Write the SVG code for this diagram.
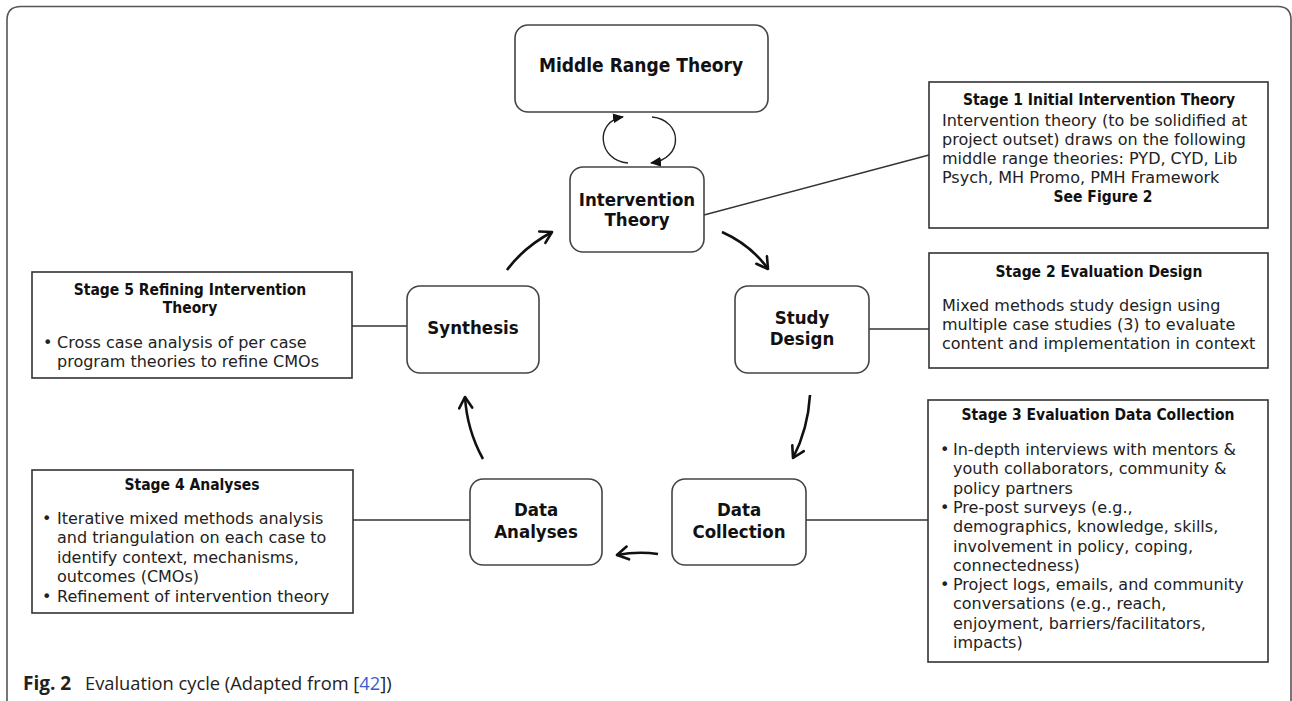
<svg xmlns="http://www.w3.org/2000/svg" width="1292" height="701" viewBox="0 0 1292 701">
<style>
.frame{fill:none;stroke:#555;stroke-width:1.6}
.node{fill:#fff;stroke:#444;stroke-width:1.6}
.box{fill:#fff;stroke:#333;stroke-width:1.6}
.lbl{font-family:'DejaVu Sans Condensed','DejaVu Sans',sans-serif;font-stretch:condensed;font-weight:bold;font-size:18.5px;fill:#111;text-anchor:middle}
.ttl{font-family:'DejaVu Sans Condensed','DejaVu Sans',sans-serif;font-stretch:condensed;font-weight:bold;font-size:15.5px;fill:#111;text-anchor:middle}
.txt{font-family:'DejaVu Sans',Verdana,sans-serif;font-size:16px;fill:#222}
.stub{stroke:#333;stroke-width:1.4;fill:none}
.cyc{stroke:#111;stroke-width:2.6;fill:none;marker-end:url(#open)}
.loop{stroke:#222;stroke-width:1.4;fill:none;marker-end:url(#fill)}
.cap{font-family:'Open Sans','DejaVu Sans',sans-serif;font-size:18.3px;fill:#222}
.capb{font-family:'Open Sans','DejaVu Sans',sans-serif;font-size:19px;font-weight:bold;fill:#222}
</style>
<defs>
<marker id="open" markerUnits="userSpaceOnUse" markerWidth="16" markerHeight="16" refX="13" refY="8" orient="auto">
<path d="M2,1.5 L13,8 L2,14.5" fill="none" stroke="#111" stroke-width="2.6" stroke-linecap="round" stroke-linejoin="round"/>
</marker>
<marker id="fill" markerUnits="userSpaceOnUse" markerWidth="12" markerHeight="12" refX="10" refY="6" orient="auto">
<path d="M0,1 L11,6 L0,11 Z" fill="#111"/>
</marker>
</defs>
<rect width="1292" height="701" fill="#fff"/>
<path class="frame" d="M7,701 L7,20 Q7,6.5 21,6.5 L1278,6.5 Q1291,6.5 1291,20 L1291,701"/>

<g id="connectors">
<line class="stub" x1="704" y1="215" x2="929" y2="155"/>
<line class="stub" x1="869" y1="329" x2="929" y2="329"/>
<line class="stub" x1="806" y1="520" x2="928" y2="520"/>
<line class="stub" x1="353" y1="520" x2="470" y2="520"/>
<line class="stub" x1="352" y1="326" x2="407" y2="326"/>
<path class="cyc" d="M507,270 Q524,247 552,232"/>
<path class="cyc" d="M722,232 Q751,245 768,269"/>
<path class="cyc" d="M810,395 Q808,429 793,458"/>
<path class="cyc" d="M658,554 Q638,551 617,555"/>
<path class="cyc" d="M483,459 Q467,430 465,397"/>
<path class="loop" d="M628,163 C598,161 594,121 623,117"/>
<path class="loop" d="M652,117 C683,120 684,159 651,163"/>
</g>

<g id="middle-range-theory">
<rect class="node" x="515" y="25" width="253" height="87" rx="13"/>
<text class="lbl" x="641" y="72" style="font-size:19px">Middle Range Theory</text>
</g>
<g id="intervention-theory">
<rect class="node" x="570" y="167" width="134" height="85" rx="13"/>
<text class="lbl" x="637" y="206">Intervention</text>
<text class="lbl" x="637" y="226">Theory</text>
</g>
<g id="study-design">
<rect class="node" x="735" y="286" width="134" height="87" rx="13"/>
<text class="lbl" x="802" y="324">Study</text>
<text class="lbl" x="802" y="345">Design</text>
</g>
<g id="data-collection">
<rect class="node" x="672" y="479" width="134" height="86" rx="13"/>
<text class="lbl" x="739" y="516">Data</text>
<text class="lbl" x="739" y="538">Collection</text>
</g>
<g id="data-analyses">
<rect class="node" x="470" y="479" width="132" height="86" rx="13"/>
<text class="lbl" x="536" y="516">Data</text>
<text class="lbl" x="536" y="538">Analyses</text>
</g>
<g id="synthesis">
<rect class="node" x="407" y="286" width="132" height="87" rx="13"/>
<text class="lbl" x="473" y="334">Synthesis</text>
</g>

<g id="stage1">
<rect class="box" x="929" y="82" width="339" height="146"/>
<text class="ttl" x="1099" y="105">Stage 1 Initial Intervention Theory</text>
<text class="txt" x="942" y="126">Intervention theory (to be solidified at</text>
<text class="txt" x="942" y="145">project outset) draws on the following</text>
<text class="txt" x="942" y="164">middle range theories: PYD, CYD, Lib</text>
<text class="txt" x="942" y="183">Psych, MH Promo, PMH Framework</text>
<text class="ttl" x="1103" y="202">See Figure 2</text>
</g>
<g id="stage2">
<rect class="box" x="929" y="253" width="339" height="115"/>
<text class="ttl" x="1099" y="277">Stage 2 Evaluation Design</text>
<text class="txt" x="942" y="311">Mixed methods study design using</text>
<text class="txt" x="942" y="330">multiple case studies (3) to evaluate</text>
<text class="txt" x="942" y="349">content and implementation in context</text>
</g>
<g id="stage3">
<rect class="box" x="928" y="400" width="340" height="262"/>
<text class="ttl" x="1098" y="420">Stage 3 Evaluation Data Collection</text>
<text class="txt" x="940" y="455">•</text>
<text class="txt" x="953" y="455">In-depth interviews with mentors &amp;</text>
<text class="txt" x="953" y="474.3">youth collaborators, community &amp;</text>
<text class="txt" x="953" y="493.6">policy partners</text>
<text class="txt" x="940" y="512.9">•</text>
<text class="txt" x="953" y="512.9">Pre-post surveys (e.g.,</text>
<text class="txt" x="953" y="532.2">demographics, knowledge, skills,</text>
<text class="txt" x="953" y="551.5">involvement in policy, coping,</text>
<text class="txt" x="953" y="570.8">connectedness)</text>
<text class="txt" x="940" y="590.1">•</text>
<text class="txt" x="953" y="590.1">Project logs, emails, and community</text>
<text class="txt" x="953" y="609.4">conversations (e.g., reach,</text>
<text class="txt" x="953" y="628.7">enjoyment, barriers/facilitators,</text>
<text class="txt" x="953" y="648">impacts)</text>
</g>
<g id="stage4">
<rect class="box" x="32" y="470" width="321" height="143"/>
<text class="ttl" x="192" y="490">Stage 4 Analyses</text>
<text class="txt" x="42" y="524">•</text>
<text class="txt" x="57" y="524">Iterative mixed methods analysis</text>
<text class="txt" x="57" y="543.4">and triangulation on each case to</text>
<text class="txt" x="57" y="562.8">identify context, mechanisms,</text>
<text class="txt" x="57" y="582.2">outcomes (CMOs)</text>
<text class="txt" x="42" y="601.6">•</text>
<text class="txt" x="57" y="601.6">Refinement of intervention theory</text>
</g>
<g id="stage5">
<rect class="box" x="32" y="272" width="320" height="106"/>
<text class="ttl" x="190" y="295">Stage 5 Refining Intervention</text>
<text class="ttl" x="190" y="313">Theory</text>
<text class="txt" x="43" y="348">•</text>
<text class="txt" x="57" y="348">Cross case analysis of per case</text>
<text class="txt" x="57" y="367">program theories to refine CMOs</text>
</g>

<text class="capb" x="23" y="690">Fig. 2</text>
<text class="cap" x="85" y="690">Evaluation cycle (Adapted from [<tspan fill="#3d5bd6">42</tspan>])</text>
</svg>
